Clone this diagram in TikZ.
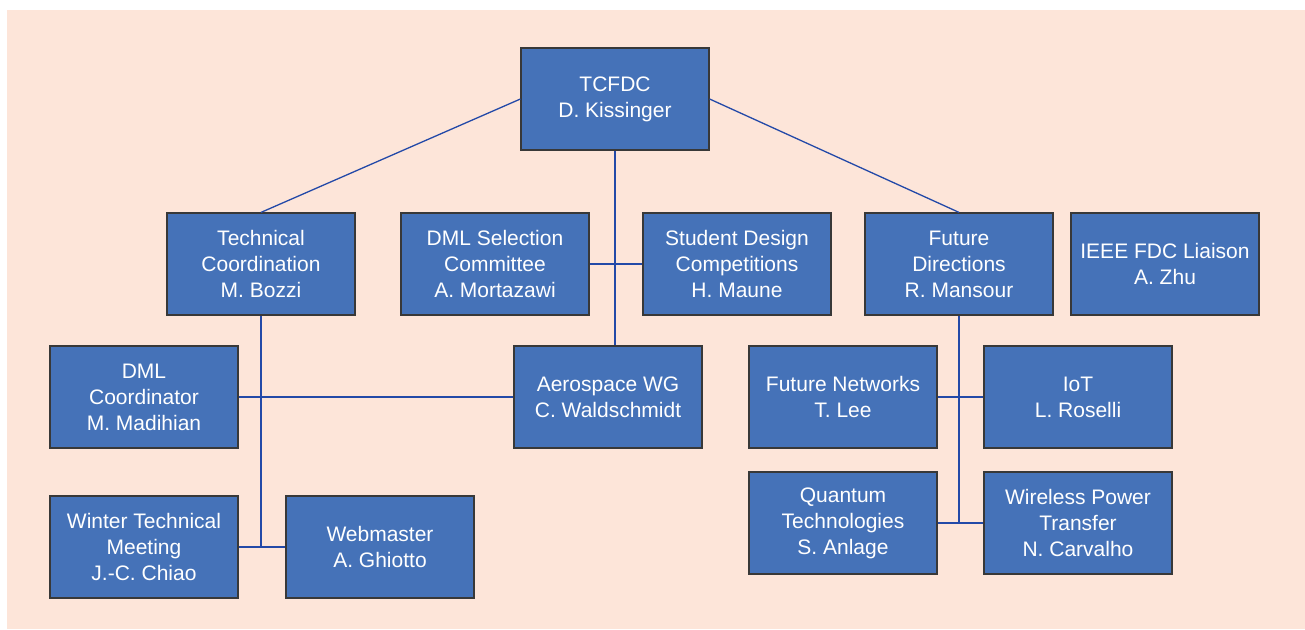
\documentclass[tikz,border=0pt]{standalone}
\usepackage{fontspec}
\setmainfont{Liberation Sans}

\definecolor{peach}{HTML}{FDE5D9}
\definecolor{boxblue}{HTML}{4572B8}
\definecolor{boxedge}{HTML}{383838}
\definecolor{wire}{HTML}{2349A8}

\tikzset{every node/.style={text=white}}
\tikzstyle{unit}=[draw=boxedge,line width=1.2pt,fill=boxblue,minimum width=188pt,
    minimum height=102pt,align=center,inner sep=0pt,
    font=\fontsize{21}{26}\selectfont]
\tikzstyle{link}=[draw=wire,line width=1.3pt]

\begin{document}
\begin{tikzpicture}[x=1pt,y=-1pt]
    \useasboundingbox (0,0) rectangle (1305,629);
    \fill[peach] (7,10) rectangle (1305,629);

    % top level
    \node [unit] (tcfdc) at (615,99) {TCFDC\\D. Kissinger};

    % second row
    \node [unit] (techco) at (261,264) {Technical\\Coordination\\M. Bozzi};
    \node [unit] (dmlsel) at (495,264) {DML Selection\\Committee\\A. Mortazawi};
    \node [unit] (student) at (737,264) {Student Design\\Competitions\\H. Maune};
    \node [unit] (future) at (959,264) {Future\\Directions\\R. Mansour};
    \node [unit] (liaison) at (1165,264) {IEEE FDC Liaison\\A. Zhu};

    % third row
    \node [unit] (dmlco) at (144,397) {DML\\Coordinator\\M. Madihian};
    \node [unit] (aero) at (608,397) {Aerospace WG\\C. Waldschmidt};
    \node [unit] (fnet) at (843,397) {Future Networks\\T. Lee};
    \node [unit] (iot) at (1078,397) {IoT\\L. Roselli};

    % bottom row
    \node [unit] (winter) at (144,547) {Winter Technical\\Meeting\\J.-C. Chiao};
    \node [unit] (webm) at (380,547) {Webmaster\\A. Ghiotto};
    \node [unit] (quantum) at (843,523) {Quantum\\Technologies\\S. Anlage};
    \node [unit] (wpt) at (1078,523) {Wireless Power\\Transfer\\N. Carvalho};

    \coordinate (topdrop) at (tcfdc.south |- aero.north);
    \coordinate (leftdrop) at (techco.south |- winter.east);
    \coordinate (rightdrop) at (future.south |- quantum.east);

    \draw [link] (tcfdc.west) -- (techco.north);
    \draw [link] (tcfdc.east) -- (future.north);
    \draw [link] (tcfdc.south) -- (topdrop);
    \draw [link] (dmlsel.east) -- (student.west);

    \draw [link] (techco.south) -- (leftdrop);
    \draw [link] (dmlco.east) -- (aero.west);
    \draw [link] (winter.east) -- (webm.west);

    \draw [link] (future.south) -- (rightdrop);
    \draw [link] (fnet.east) -- (iot.west);
    \draw [link] (quantum.east) -- (wpt.west);
\end{tikzpicture}
\end{document}
